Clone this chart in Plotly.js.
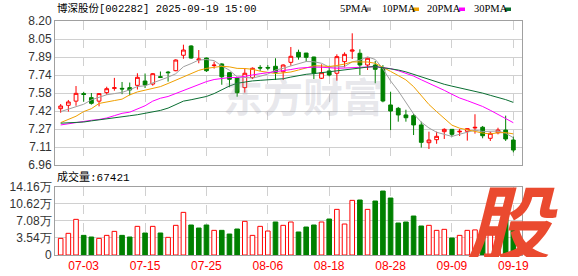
<!DOCTYPE html>
<html>
<head>
<meta charset="utf-8">
<script src="https://cdn.plot.ly/plotly-3.0.1.min.js"></script>
<style>
html,body{margin:0;padding:0;background:#fff;}
#chart{width:578px;height:276px;}
</style>
</head>
<body>
<div id="chart"></div>
<script>
// ---- data ----
var dates = ['06-30','07-01','07-02','07-03','07-04','07-07','07-08','07-09','07-10','07-11',
  '07-14','07-15','07-16','07-17','07-18','07-21','07-22','07-23','07-24','07-25',
  '07-28','07-29','07-30','07-31','08-01','08-04','08-05','08-06','08-07','08-08',
  '08-11','08-12','08-13','08-14','08-15','08-18','08-19','08-20','08-21','08-22',
  '08-25','08-26','08-27','08-28','08-29','09-01','09-02','09-03','09-04','09-05',
  '09-08','09-09','09-10','09-11','09-12','09-15','09-16','09-17','09-18','09-19'];

var openP = [7.445,7.474,7.51,7.575,7.54,7.51,7.583,7.62,7.62,7.626,
  7.646,7.683,7.657,7.72,7.76,7.772,7.905,7.985,7.866,7.881,
  7.816,7.83,7.755,7.709,7.626,7.712,7.80,7.80,7.81,7.763,
  7.844,7.93,7.924,7.89,7.707,7.77,7.75,7.85,7.94,7.922,
  7.821,7.821,7.793,7.477,7.448,7.391,7.385,7.305,7.152,7.178,
  7.247,7.267,7.245,7.25,7.279,7.285,7.19,7.238,7.261,7.175];
var highP = [7.485,7.52,7.64,7.59,7.58,7.58,7.634,7.71,7.675,7.67,
  7.75,7.748,7.752,7.765,7.77,7.87,7.996,7.991,7.95,7.885,
  7.85,7.836,7.76,7.71,7.793,7.80,7.82,7.82,7.879,7.827,
  7.976,7.953,7.925,7.892,7.827,7.815,7.913,7.93,8.094,7.956,
  7.884,7.856,7.82,7.591,7.46,7.436,7.40,7.333,7.247,7.247,
  7.276,7.27,7.27,7.275,7.397,7.296,7.247,7.281,7.385,7.204];
var lowP = [7.41,7.42,7.47,7.505,7.48,7.465,7.565,7.60,7.57,7.56,
  7.61,7.623,7.643,7.709,7.678,7.767,7.875,7.875,7.836,7.761,
  7.79,7.651,7.63,7.548,7.583,7.70,7.77,7.775,7.692,7.692,
  7.815,7.867,7.85,7.70,7.70,7.724,7.686,7.80,7.873,7.735,
  7.778,7.664,7.50,7.261,7.333,7.333,7.218,7.11,7.098,7.143,
  7.184,7.205,7.21,7.17,7.23,7.19,7.167,7.224,7.167,7.069];
var closeP = [7.468,7.503,7.577,7.567,7.491,7.575,7.617,7.625,7.615,7.606,
  7.715,7.649,7.746,7.715,7.755,7.864,7.95,7.881,7.872,7.772,
  7.82,7.72,7.698,7.583,7.75,7.793,7.795,7.795,7.758,7.821,
  7.896,7.89,7.887,7.75,7.755,7.735,7.893,7.913,7.95,7.821,
  7.879,7.784,7.511,7.425,7.391,7.367,7.305,7.155,7.175,7.207,
  7.267,7.224,7.25,7.273,7.284,7.212,7.233,7.261,7.184,7.089];

var ma5 = [7.42,7.44,7.465,7.483,7.521,7.542,7.565,7.575,7.585,7.608,
  7.636,7.642,7.666,7.686,7.716,7.746,7.806,7.833,7.864,7.868,
  7.859,7.813,7.776,7.719,7.714,7.709,7.724,7.743,7.778,7.792,
  7.813,7.832,7.851,7.849,7.836,7.803,7.804,7.808,7.848,7.862,
  7.891,7.869,7.789,7.684,7.598,7.496,7.400,7.329,7.279,7.242,
  7.222,7.206,7.225,7.244,7.260,7.249,7.250,7.252,7.234,7.195];
var ma10 = [7.325,7.35,7.38,7.42,7.445,7.49,7.505,7.515,7.527,7.564,
  7.589,7.604,7.620,7.635,7.662,7.691,7.724,7.750,7.775,7.792,
  7.802,7.810,7.805,7.792,7.791,7.784,7.768,7.760,7.748,7.753,
  7.761,7.778,7.797,7.814,7.813,7.808,7.817,7.829,7.848,7.848,
  7.847,7.836,7.798,7.766,7.730,7.693,7.635,7.559,7.481,7.420,
  7.359,7.303,7.277,7.261,7.251,7.235,7.228,7.238,7.239,7.228];
var ma20 = [7.305,7.315,7.328,7.34,7.345,7.352,7.365,7.385,7.405,7.415,
  7.44,7.47,7.51,7.535,7.55,7.575,7.60,7.625,7.65,7.678,
  7.696,7.707,7.713,7.713,7.726,7.737,7.746,7.755,7.762,7.773,
  7.782,7.794,7.801,7.803,7.802,7.796,7.793,7.795,7.798,7.801,
  7.804,7.807,7.798,7.790,7.772,7.751,7.726,7.694,7.665,7.634,
  7.603,7.569,7.537,7.514,7.490,7.464,7.431,7.399,7.360,7.324];
var ma30 = [7.32,7.323,7.326,7.33,7.34,7.35,7.357,7.367,7.375,7.384,
  7.393,7.405,7.415,7.43,7.45,7.48,7.51,7.522,7.535,7.55,
  7.575,7.61,7.64,7.664,7.675,7.684,7.689,7.695,7.70,7.703,
  7.717,7.730,7.741,7.747,7.755,7.761,7.770,7.780,7.791,7.798,
  7.803,7.808,7.800,7.790,7.778,7.762,7.740,7.716,7.693,7.674,
  7.655,7.639,7.624,7.614,7.598,7.579,7.560,7.542,7.523,7.499];

var volume = [34500,44900,73900,40700,37300,34500,40700,49000,40700,37300,
  59400,45600,59400,45600,36600,61500,88400,62200,55900,62200,
  51100,51100,43500,53900,69800,40700,59400,49700,68400,61500,
  68400,47700,58000,62200,68400,74600,94600,64200,113300,114000,
  94600,111900,132600,118100,66300,68400,80800,60100,61500,51100,
  53200,35200,40700,51100,52000,48000,42000,40000,89800,67421];

var xTickDates = ['07-03','07-15','07-25','08-06','08-18','08-28','09-09','09-19'];
var priceTickVals = [6.96,7.115,7.27,7.425,7.58,7.735,7.89,8.045,8.20];
var priceTickText = ['6.96','7.11','7.27','7.42','7.58','7.74','7.89','8.05','8.20'];
var volTickVals = [0,35400,70800,106200,141600];
var volTickText = ['0','3.54万','7.08万','10.62万','14.16万'];
var maNames = ['5PMA','10PMA','20PMA','30PMA'];
var titleText = '博深股份[002282] 2025-09-19 15:00';
var volLabel = '成交量:67421';

// ---- styles ----
var RED = '#ff0000', GREEN = '#008000';
var maColors = ['#a0a0a0','#f0a000','#ff00ff','#0a6e32'];

var volUp = volume.map(function(v,i){
  return i === 0 ? closeP[i] >= openP[i] : closeP[i] >= closeP[i-1];
});

var traces = [
  {
    type:'candlestick', x:dates, open:openP, high:highP, low:lowP, close:closeP,
    xaxis:'x', yaxis:'y',
    increasing:{line:{color:RED,width:1}, fillcolor:'#ffffff'},
    decreasing:{line:{color:GREEN,width:1}, fillcolor:GREEN},
    hoverinfo:'skip'
  }
];
[ma5,ma10,ma20,ma30].forEach(function(arr,k){
  traces.push({type:'scatter', mode:'lines', x:dates, y:arr, xaxis:'x', yaxis:'y',
    line:{color:maColors[k], width:1}, hoverinfo:'skip'});
});
traces.push({
  type:'bar', x:dates, y:volume, xaxis:'x2', yaxis:'y2',
  marker:{color:volUp.map(function(u){return u ? '#ffffff' : GREEN;}),
          line:{color:volUp.map(function(u){return u ? RED : GREEN;}), width:1}},
  hoverinfo:'skip'
});

var L = 55, R = 522, T = 21, B = 255, W = 578, H = 276;
function px(X){ return (X - L) / (R - L); }
function py(Y){ return (B - Y) / (B - T); }

var gridC = '#d0d0d0', frameC = '#a0a0a0';
var axisFont = {family:'Liberation Sans, Arial, sans-serif', size:12, color:'#333'};

var annotations = [
  {text:titleText, xref:'paper', yref:'paper', x:px(55), y:py(9), xanchor:'left', yanchor:'middle',
   showarrow:false, font:{family:'Liberation Mono, Noto Sans CJK SC', size:10.5, color:'#000'}},
  {text:volLabel, xref:'paper', yref:'paper', x:px(55), y:py(177), xanchor:'left', yanchor:'middle',
   showarrow:false, font:{family:'Liberation Mono, Noto Sans CJK SC', size:11, color:'#000'}},
  {text:'<b>东方财富</b>', xref:'paper', yref:'paper', x:px(303), y:py(95), xanchor:'center', yanchor:'middle',
   showarrow:false, font:{family:'Noto Sans CJK SC', size:40, color:'rgba(150,150,170,0.22)'}},
  {text:'<b><i>股</i></b>', xref:'paper', yref:'paper', x:px(512), y:py(219), xanchor:'center', yanchor:'middle',
   width:100, height:76, borderpad:0,
   showarrow:false, font:{family:'Noto Sans CJK SC', size:84, color:'#ea4a2f'}}
];
var legendX = [338, 380, 425, 472];
var squareX = [365, 413, 459, 505];
var shapes = [];
maNames.forEach(function(n,k){
  annotations.push({text:n, xref:'paper', yref:'paper', x:px(legendX[k]), y:py(9), xanchor:'left', yanchor:'middle',
    showarrow:false, font:{family:'Liberation Serif, serif', size:10.5, color:'#000'}});
  shapes.push({type:'rect', xref:'paper', yref:'paper', x0:px(squareX[k]), x1:px(squareX[k]+6),
    y0:py(11), y1:py(7.5), fillcolor:maColors[k], line:{width:0}});
});

var layout = {
  width:W, height:H,
  margin:{l:L, r:W-R, t:T, b:H-B, pad:0},
  paper_bgcolor:'#ffffff', plot_bgcolor:'#ffffff',
  showlegend:false, bargap:0.4,
  xaxis:{type:'category', range:[-0.74,60.13], anchor:'y', domain:[0,1],
    rangeslider:{visible:false}, showticklabels:false, tickvals:xTickDates, ticks:'',
    showgrid:true, gridcolor:gridC, griddash:'dash', gridwidth:1,
    showline:true, mirror:true, linecolor:frameC, linewidth:1, zeroline:false, fixedrange:true},
  xaxis2:{type:'category', range:[-0.74,60.13], anchor:'y2', matches:'x', domain:[0,1],
    tickvals:xTickDates, ticks:'', tickfont:{family:'Liberation Sans, Arial, sans-serif', size:12, color:RED},
    showgrid:true, gridcolor:gridC, griddash:'dash', gridwidth:1,
    showline:true, mirror:true, linecolor:frameC, linewidth:1, zeroline:false, fixedrange:true},
  yaxis:{domain:[py(165),1], range:[6.96,8.20], anchor:'x', tickvals:priceTickVals, ticktext:priceTickText,
    ticks:'', tickfont:axisFont, showgrid:true, gridcolor:gridC, gridwidth:1,
    showline:true, mirror:true, linecolor:frameC, linewidth:1, zeroline:false, fixedrange:true},
  yaxis2:{domain:[0,py(186.7)], range:[0,141600], anchor:'x2', tickvals:volTickVals, ticktext:volTickText,
    ticks:'', tickfont:axisFont, showgrid:true, gridcolor:gridC, gridwidth:1,
    showline:true, mirror:true, linecolor:frameC, linewidth:1, zeroline:false, fixedrange:true},
  annotations:annotations,
  shapes:shapes
};

Plotly.newPlot('chart', traces, layout, {staticPlot:true, displayModeBar:false});
</script>
</body>
</html>
